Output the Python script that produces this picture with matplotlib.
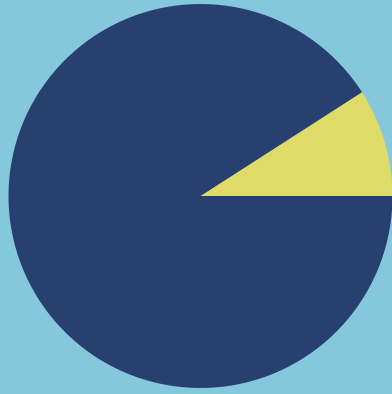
import matplotlib
matplotlib.use("Agg")
import matplotlib.pyplot as plt

# slice values (yellow slice ~1/11 of the whole)
labels = ["small", "large"]
values = [1, 10]
colors = ["#dedb68", "#274070"]
bg = "#85c8db"

fig = plt.figure(figsize=(3.92, 3.94), dpi=100)
fig.patch.set_facecolor(bg)
ax = fig.add_axes([8.5/392, 6/394, 384/392, 384/394])
ax.set_facecolor(bg)

ax.pie(values, colors=colors, startangle=0, counterclock=True,
       wedgeprops={"linewidth": 0})
ax.set_xlim(-1, 1)
ax.set_ylim(-1, 1)
ax.set_aspect("equal")
ax.axis("off")

fig.savefig("out.png", dpi=100, facecolor=bg)
